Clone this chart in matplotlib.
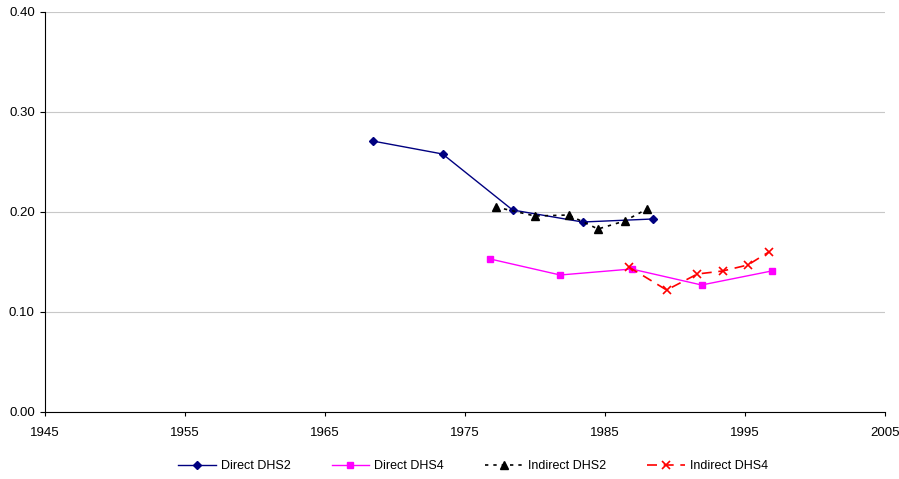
import matplotlib
matplotlib.use("Agg")
import matplotlib.pyplot as plt

plt.rcParams["font.family"] = ["Liberation Sans", "DejaVu Sans"]

# Direct DHS2
direct2_x = [1968.4, 1973.4, 1978.4, 1983.4, 1988.4]
direct2_y = [0.271, 0.258, 0.202, 0.190, 0.193]

# Direct DHS4
direct4_x = [1976.8, 1981.8, 1986.9, 1991.9, 1996.9]
direct4_y = [0.153, 0.137, 0.143, 0.127, 0.141]

# Indirect DHS2
indirect2_x = [1977.2, 1980.0, 1982.4, 1984.5, 1986.4, 1988.0]
indirect2_y = [0.205, 0.196, 0.197, 0.183, 0.191, 0.203]

# Indirect DHS4
indirect4_x = [1986.7, 1989.4, 1991.6, 1993.4, 1995.2, 1996.7]
indirect4_y = [0.145, 0.122, 0.138, 0.141, 0.147, 0.160]

x_ticks = [1945, 1955, 1965, 1975, 1985, 1995, 2005]
y_ticks = [0.0, 0.1, 0.2, 0.3, 0.4]

fig = plt.figure(figsize=(8.99, 4.79), dpi=100)
ax = fig.add_axes([45 / 899, 67 / 479, 840 / 899, 400 / 479])

ax.plot(direct2_x, direct2_y, color="#000080", linewidth=1.0, marker="D",
        markersize=4.5, label="Direct DHS2")
ax.plot(direct4_x, direct4_y, color="#ff00ff", linewidth=1.0, marker="s",
        markersize=5, label="Direct DHS4")
ax.plot(indirect2_x, indirect2_y, color="black", linewidth=1.2, linestyle=(0, (2, 3)),
        marker="^", markersize=6, label="Indirect DHS2")
ax.plot(indirect4_x, indirect4_y, color="#ff0000", linewidth=1.2, linestyle=(0, (6, 4)),
        marker="x", markersize=6, markeredgewidth=1.2, label="Indirect DHS4")

ax.set_xlim(1945, 2005)
ax.set_ylim(0, 0.4)
ax.set_xticks(x_ticks)
ax.set_yticks(y_ticks)
ax.set_yticklabels([f"{v:.2f}" for v in y_ticks])
ax.tick_params(labelsize=9.5, direction="out", width=0.8)
ax.tick_params(axis="y", length=3.8, pad=3.5)
ax.tick_params(axis="x", length=3, pad=8)
ax.grid(True, axis="y", color="#c8c8c8", linewidth=0.8)
ax.set_axisbelow(True)
for side in ["top", "right"]:
    ax.spines[side].set_visible(False)
for side in ["left", "bottom"]:
    ax.spines[side].set_linewidth(0.8)

ax.legend(loc="center", bbox_to_anchor=(0.5095, -0.135), ncol=4, frameon=False,
          fontsize=9, handlelength=3.0, handletextpad=0.4, columnspacing=3.3)

fig.savefig("out.png", dpi=100)
